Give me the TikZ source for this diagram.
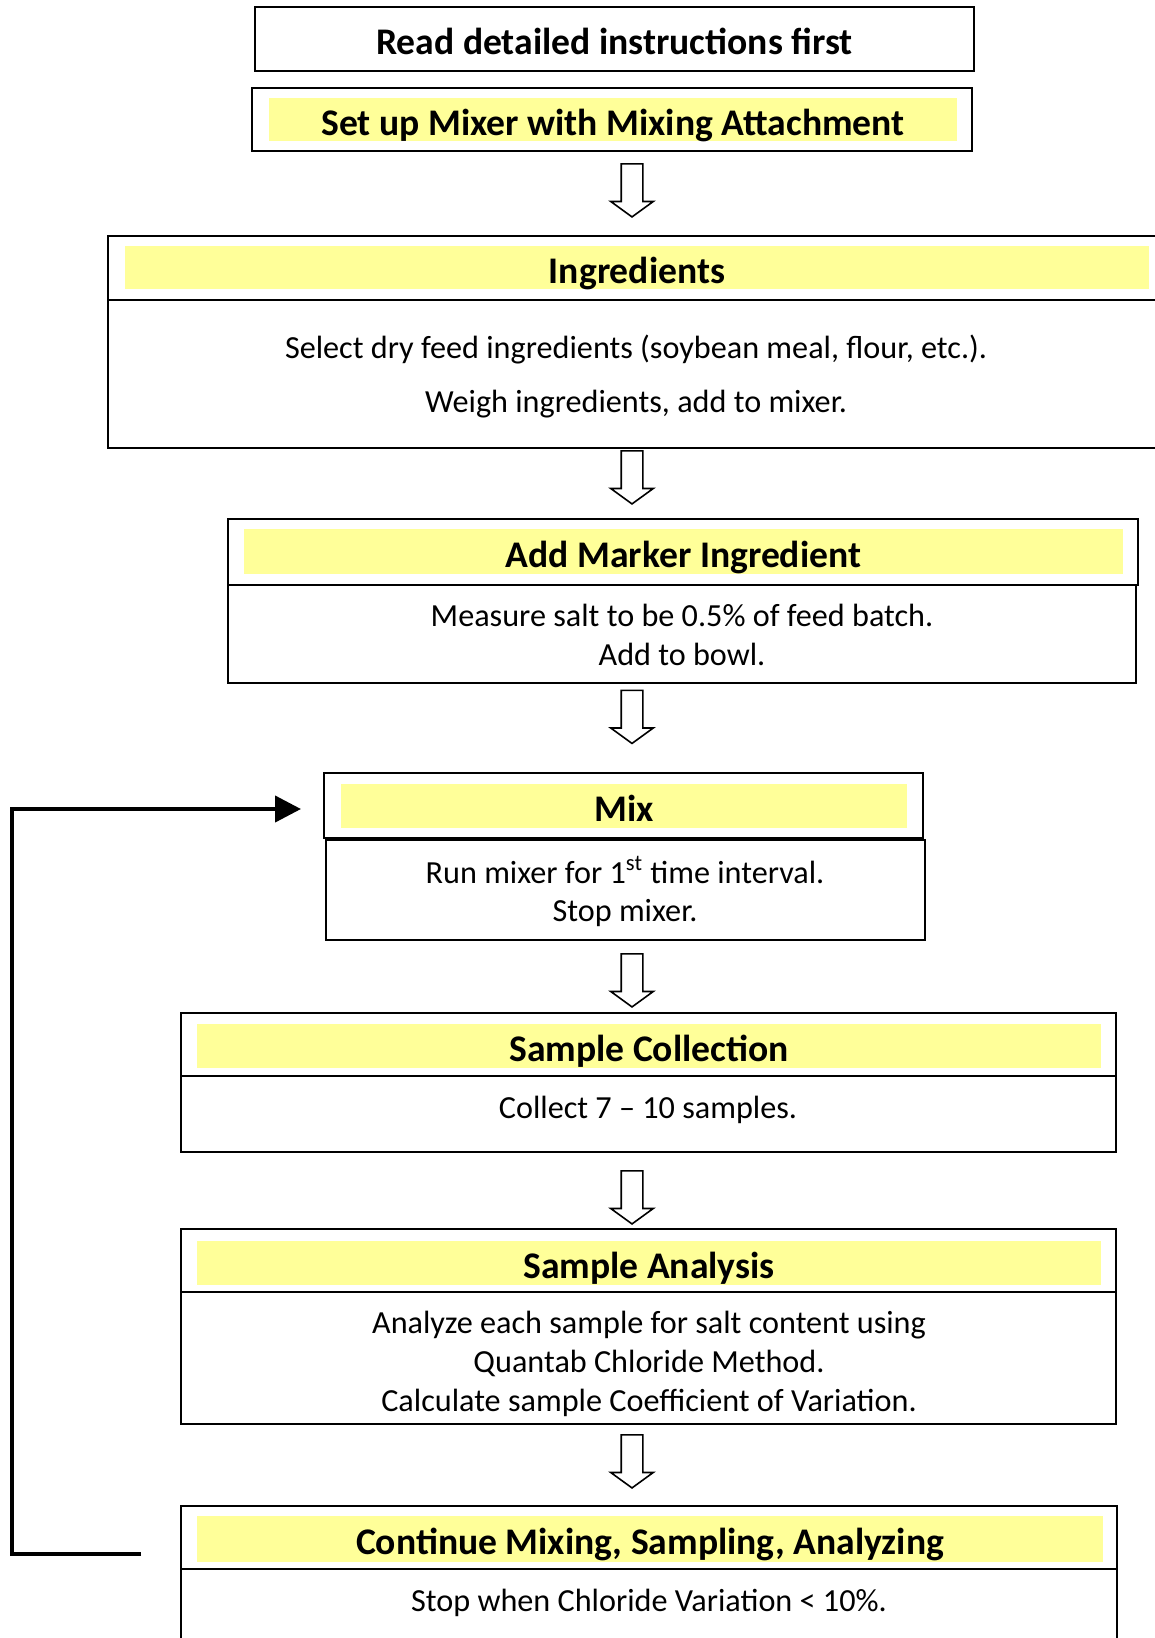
\documentclass[tikz,border=0pt]{standalone}
\usepackage{fontspec}
\setmainfont{Carlito}
\usetikzlibrary{shapes.arrows,arrows.meta}

\definecolor{hiyellow}{HTML}{FFFF99}

\tikzset{
  frame/.style={draw=black, line width=1pt, inner sep=0pt, fill=white},
  titlefont/.style={font=\fontsize{18.8}{22}\selectfont\bfseries,
    text height=15.5pt, text depth=0pt},
  band/.style={fill=hiyellow, inner sep=0pt, titlefont},
  title/.style={inner sep=0pt, titlefont},
  bodytext/.style={inner sep=0pt, font=\fontsize{16.1}{19}\selectfont},
  downarrow/.style={single arrow, draw=black, line width=0.8pt, fill=white,
    rotate=-90, minimum height=26.5pt, minimum width=20.5pt,
    single arrow head extend=5.25pt, single arrow tip angle=108,
    inner xsep=0pt, inner ysep=5pt},
  loopline/.style={line width=2.1pt, line join=miter,
    -{Triangle[length=13pt,width=13pt]}}
}

\begin{document}
\begin{tikzpicture}[x=0.5pt, y=-0.5pt]
\useasboundingbox (0,0) rectangle (1155,1638);

% opening instruction
\node[frame, minimum width=359.5pt, minimum height=32pt] (read) at (614.5,39) {};
\node[title] (readtxt) at (614.5,39) {Read detailed instructions first};

% mixer set-up
\node[frame, minimum width=360pt, minimum height=31.5pt] (setup) at (612,119.5) {};
\node[band, minimum width=344pt, minimum height=21.5pt] (setupband) at (613,119.5) {Set up Mixer with Mixing Attachment};

% ingredients
\node[frame, minimum width=528.5pt, minimum height=32pt] (ingrhead) at (636.5,268) {};
\node[band, minimum width=512pt, minimum height=21.5pt] (ingrband) at (637,267.5) {Ingredients};
\node[frame, minimum width=528.5pt, minimum height=74pt] (ingrbody) at (636.5,374) {};
\node[bodytext] (ingrA) at (636,349) {Select dry feed ingredients (soybean meal, flour, etc.).};
\node[bodytext] (ingrB) at (636,404) {Weigh ingredients, add to mixer.};

% marker ingredient
\node[frame, minimum width=455pt, minimum height=33pt] (markhead) at (683,552) {};
\node[band, minimum width=439.5pt, minimum height=22.5pt] (markband) at (683.5,551.5) {Add Marker Ingredient};
\node[frame, minimum width=454pt, minimum height=49pt] (markbody) at (682,634) {};
\node[bodytext] (markA) at (682,615) {Measure salt to be 0.5\% of feed batch.};
\node[bodytext] (markB) at (682,654) {Add to bowl.};

% mixing
\node[frame, minimum width=299.5pt, minimum height=32.5pt] (mixhead) at (623.5,805.5) {};
\node[band, minimum width=283pt, minimum height=22pt] (mixband) at (624,806) {Mix};
\node[frame, minimum width=299.5pt, minimum height=50pt] (mixbody) at (625.5,890) {};
\node[bodytext] (mixA) at (625,870) {Run mixer for 1\textsuperscript{st} time interval.};
\node[bodytext] (mixB) at (625,913) {Stop mixer.};

% sample collection
\node[frame, minimum width=467.5pt, minimum height=31.5pt] (collhead) at (648.5,1044.5) {};
\node[band, minimum width=452pt, minimum height=22pt] (collband) at (649,1046) {Sample Collection};
\node[frame, minimum width=467.5pt, minimum height=38pt] (collbody) at (648.5,1114) {};
\node[bodytext] (collA) at (648,1110) {Collect 7 -- 10 samples.};

% sample analysis
\node[frame, minimum width=467.5pt, minimum height=31.5pt] (anahead) at (648.5,1260.5) {};
\node[band, minimum width=452pt, minimum height=22pt] (anaband) at (649,1263) {Sample Analysis};
\node[frame, minimum width=467.5pt, minimum height=66pt] (anabody) at (648.5,1358) {};
\node[bodytext] (anaA) at (649,1325) {Analyze each sample for salt content using};
\node[bodytext] (anaB) at (649,1363) {Quantab Chloride Method.};
\node[bodytext] (anaC) at (649,1403) {Calculate sample Coefficient of Variation.};

% repeat step
\node[frame, minimum width=468pt, minimum height=31.5pt] (conthead) at (649,1537.5) {};
\node[band, minimum width=453pt, minimum height=23pt] (contband) at (650,1539) {Continue Mixing, Sampling, Analyzing};
\node[frame, minimum width=468pt, minimum height=45.5pt] (contbody) at (649,1614.5) {};
\node[bodytext] (contA) at (649,1603) {Stop when Chloride Variation < 10\%.};

% hollow arrows between the steps
\node[downarrow] (arr1) at (632,186.5) {};
\node[downarrow] (arr2) at (632,473.5) {};
\node[downarrow] (arr3) at (632,713) {};
\node[downarrow] (arr4) at (632,976.5) {};
\node[downarrow] (arr5) at (632,1193.5) {};
\node[downarrow] (arr6) at (632,1457.5) {};

% loop back to mixing
\coordinate (loopfrom) at (141,1554);
\coordinate (loopcorner) at (12,1554);
\coordinate (loopto) at (301,809);
\draw[loopline] (loopfrom) -- (loopcorner) |- (loopto);

\end{tikzpicture}
\end{document}
